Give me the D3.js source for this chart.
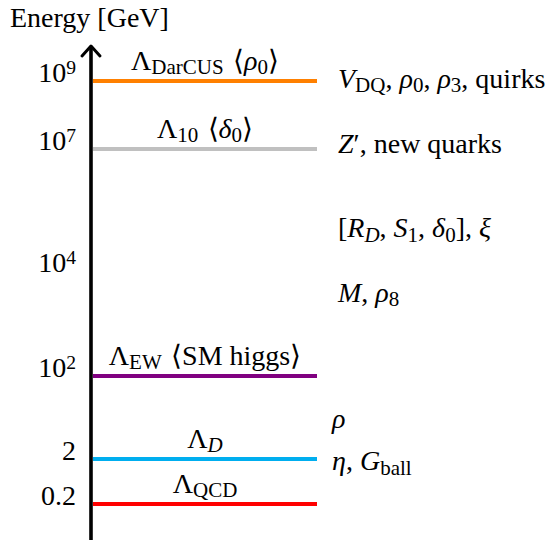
<!DOCTYPE html>
<html>
<head>
<meta charset="utf-8">
<script src="https://cdn.jsdelivr.net/npm/d3@7"></script>
</head>
<body style="margin:0; background:#fff;">
<div id="chart"></div>
<script>
// axis ticks (schematic log scale, values in GeV)
var tickValues = [0.2, 2, 1e2, 1e4, 1e7, 1e9];
var tickLabels = ["0.2", "2", "10^{2}", "10^{4}", "10^{7}", "10^{9}"];

// scales drawn as horizontal lines
var levelEnergy = [1e9, 1e7, 1e2, 2, 0.2];
var levelNames = ["Λ_{DarCUS} \u200A⟨*ρ*_{0}⟩", "Λ_{10} \u200A⟨*δ*_{0}⟩", "Λ_{EW} \u200A⟨SM higgs⟩", "Λ_{*D*}", "Λ_{QCD}"];
var levelColors = ["#ff8000", "#c0c0c0", "#800080", "#00aeef", "#ff0000"];

// states listed on the right
var stateEnergy = [1e9, 1.2e7, 1e5, 3.5e3, 12, 1.6];
var stateNames = ["*V*_{DQ}, *ρ*_{0}, *ρ*_{3}, quirks", "*Z*′, new quarks", "[*R*_{*D*}, *S*_{1}, *δ*_{0}], *ξ*",
                  "*M*, *ρ*_{8}", "*ρ*", "*η*, *G*_{ball}"];

var width = 557, height = 540, FS = 28;
var FONT = "'Liberation Serif'";
var AXIS_X = 91;

var svg = d3.select("#chart").append("svg")
    .attr("width", width)
    .attr("height", height);

// piecewise log scale: the figure is not to scale
var yScale = d3.scaleLog()
    .domain(tickValues)
    .range([504, 459, 376, 271, 149, 81]);

var xScale = d3.scaleLinear()
    .domain([0, 1])
    .range([93, 317]);

// write "a_{b}", "a^{b}" and "*italic*" as tspans
function rich(sel, str, fs) {
  var re = /(_\{[^}]*\}|\^\{[^}]*\}|\*[^*]*\*|[^_^*]+)/g;
  var shift = 0;
  sel.style("font-family", FONT).style("font-size", fs + "px");
  str.match(re).forEach(function(tok) {
    var s = 0, txt = tok, ital = false, size = 0;
    if (tok[0] === "_") { s = 0.15 * fs; size = 0.75; }
    if (tok[0] === "^") { s = -0.27 * fs; size = 0.7; }
    if (size) txt = tok.slice(2, -1);
    if (txt[0] === "*") { txt = txt.slice(1, -1); ital = true; }
    var t = sel.append("tspan")
      .attr("dy", s - shift)
      .style("font-family", FONT)
      .text(txt);
    if (size) t.style("font-size", (fs * size) + "px");
    if (ital) t.style("font-style", "italic");
    shift = s;
  });
}

// axis title
svg.append("text")
    .attr("x", 10)
    .attr("y", 27)
    .style("font-family", FONT)
    .style("font-size", FS + "px")
    .text("Energy [GeV]");

// tick labels via axis
var yAxis = svg.append("g")
    .attr("transform", "translate(" + AXIS_X + ",0)")
    .call(d3.axisLeft(yScale)
      .tickValues(tickValues)
      .tickSize(0)
      .tickPadding(15)
      .tickFormat(""));
yAxis.select(".domain").remove();
yAxis.selectAll(".tick text").each(function(d, i) {
  var t = d3.select(this)
    .attr("dy", tickLabels[i].indexOf("^") >= 0 ? "0.4em" : "0.33em");
  rich(t, tickLabels[i], FS);
});

// level lines
svg.selectAll(".level")
  .data(levelEnergy)
  .enter().append("line")
    .attr("class", "level")
    .attr("x1", xScale(0))
    .attr("x2", xScale(1))
    .attr("y1", function(d) { return yScale(d); })
    .attr("y2", function(d) { return yScale(d); })
    .style("stroke", function(d, i) { return levelColors[i]; })
    .style("stroke-width", 4);

svg.selectAll(".levelLabel")
  .data(levelEnergy)
  .enter().append("text")
    .attr("class", "levelLabel")
    .attr("x", xScale(0.5))
    .attr("y", function(d) { return yScale(d) - 11; })
    .attr("text-anchor", "middle")
    .each(function(d, i) { rich(d3.select(this), levelNames[i], FS); });

// states on the right
svg.selectAll(".state")
  .data(stateEnergy)
  .enter().append("text")
    .attr("class", "state")
    .attr("x", function(d) { return d < 100 ? 332 : 338; })
    .attr("y", function(d) { return yScale(d) + 7; })
    .each(function(d, i) { rich(d3.select(this), stateNames[i], FS); });

// vertical axis with open arrow head
svg.append("line")
    .attr("x1", AXIS_X).attr("x2", AXIS_X)
    .attr("y1", height).attr("y2", 46)
    .style("stroke", "#000")
    .style("stroke-width", 3.6);
svg.append("path")
    .attr("d", "M" + (AXIS_X - 9) + ",56 L" + AXIS_X + ",46 L" + (AXIS_X + 9) + ",56")
    .style("fill", "none")
    .style("stroke", "#000")
    .style("stroke-width", 3)
    .style("stroke-linecap", "round")
    .style("stroke-linejoin", "round");
</script>
</body>
</html>
